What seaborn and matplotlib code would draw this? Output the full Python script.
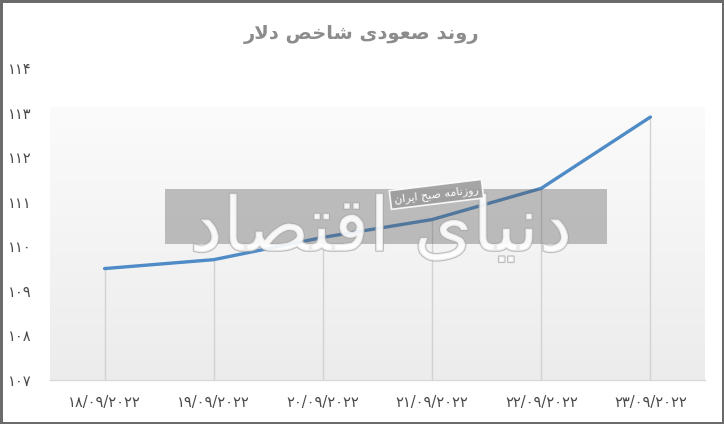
import numpy as np
import pandas as pd
import matplotlib
matplotlib.use("Agg")
import matplotlib.pyplot as plt
import matplotlib.patheffects as pe
from matplotlib.patches import Rectangle
from matplotlib.colors import LinearSegmentedColormap
import seaborn as sns

# ---- data ----
dates = ["۱۸/۰۹/۲۰۲۲", "۱۹/۰۹/۲۰۲۲", "۲۰/۰۹/۲۰۲۲", "۲۱/۰۹/۲۰۲۲", "۲۲/۰۹/۲۰۲۲", "۲۳/۰۹/۲۰۲۲"]
dxy = [109.5, 109.7, 110.2, 110.6, 111.3, 112.9]
y_ticks = [107, 108, 109, 110, 111, 112, 113, 114]
y_tick_labels = ["۱۰۷", "۱۰۸", "۱۰۹", "۱۱۰", "۱۱۱", "۱۱۲", "۱۱۳", "۱۱۴"]
# Persian text pre-shaped in visual (left-to-right) order
title_text = "ﺭﻻﺩ ﺺﺧﺎﺷ ﻯﺩﻮﻌﺻ ﺪﻧﻭﺭ"          # روند صعودی شاخص دلار
wm_text = "ﺩﺎﺼﺘﻗﺍ ﻯﺎﻴﻧﺩ"                     # دنیای اقتصاد
wm_small = "ﻥﺍﺮﻳﺍ ﺢﺒﺻ ﻪﻣﺎﻧﺯﻭﺭ"              # روزنامه صبح ایران

df = pd.DataFrame({"date": dates, "value": dxy})

sns.set_theme(style="white")
plt.rcParams["font.family"] = ["DejaVu Sans"]

fig = plt.figure(figsize=(7.24, 4.24), dpi=100)
fig.patch.set_facecolor("white")
fig.patch.set_edgecolor("#6b6b6b")
fig.patch.set_linewidth(2.5)
ax = fig.add_axes([50 / 724, 44 / 424, 655 / 724, 312 / 424])

# gradient plot-area background
grad = np.linspace(0, 1, 256).reshape(-1, 1)
cmap = LinearSegmentedColormap.from_list("bg", ["#ececec", "#fbfbfb"])
ax.imshow(grad, cmap=cmap, origin="lower", aspect="auto",
          extent=(0, 1, 0, 0.875), transform=ax.transAxes, zorder=0)

sns.lineplot(data=df, x="date", y="value", ax=ax, color="#4f8bc6",
             linewidth=2.4, sort=False, zorder=3)

xpos = np.arange(len(dates))
ax.vlines(xpos, 107, dxy, color="#d2d2d2", linewidth=1.0, zorder=1)

ax.set_xlim(-0.5, len(dates) - 0.5)
ax.set_ylim(107, 114)
ax.set_yticks(y_ticks)
ax.set_yticklabels(y_tick_labels)
ax.set_xticks(xpos)
ax.set_xticklabels(dates)
ax.set_xlabel("")
ax.set_ylabel("")
ax.tick_params(axis="y", length=0, pad=13, labelsize=10.5, labelcolor="#4a4a4a")
ax.tick_params(axis="x", length=0, pad=11, labelsize=10.5, labelcolor="#4a4a4a")
for s in ["top", "right", "left"]:
    ax.spines[s].set_visible(False)
ax.spines["bottom"].set_color("#d9d9d9")
ax.spines["bottom"].set_linewidth(1.0)
ax.set_facecolor("white")

# title
fig.text(0.5, 1 - 35 / 424, title_text, ha="center", va="center",
         fontsize=14, fontweight="bold", color="#8c8c8c")

# watermark
ax.add_patch(Rectangle((115 / 655, 0.436), 442 / 655, 0.176, transform=ax.transAxes,
                       facecolor="#555555", alpha=0.36, edgecolor="none", zorder=4))
ax.text(0.505, 0.48, wm_text, transform=ax.transAxes, ha="center", va="center",
        fontsize=54, color="white", alpha=0.7, zorder=4.5,
        path_effects=[pe.withStroke(linewidth=1.6, foreground="#a8a8a8")])
ax.text(0.59, 0.595, wm_small, transform=ax.transAxes, ha="center", va="center",
        fontsize=8, color="white", rotation=7, zorder=6,
        bbox=dict(boxstyle="square,pad=0.35", facecolor="#9c9c9c",
                  edgecolor="white", linewidth=1.2, alpha=0.9))

fig.savefig("out.png", dpi=100, facecolor=fig.get_facecolor(),
            edgecolor=fig.get_edgecolor())
